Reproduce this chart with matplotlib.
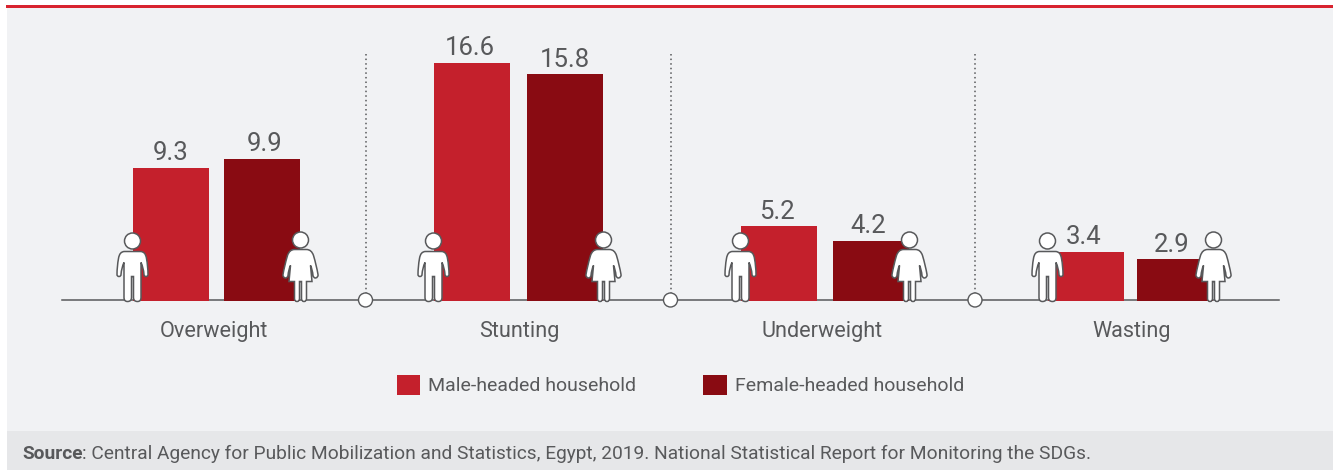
import matplotlib
matplotlib.use("Agg")
import matplotlib.pyplot as plt
from matplotlib.patches import Rectangle, Circle, PathPatch
from matplotlib.path import Path
from matplotlib.transforms import Affine2D

plt.rcParams["font.family"] = ["Roboto", "DejaVu Sans"]

# data
categories = ["Overweight", "Stunting", "Underweight", "Wasting"]
male_values = [9.3, 16.6, 5.2, 3.4]
female_values = [9.9, 15.8, 4.2, 2.9]
source_lead = "Source"
source_rest = ": Central Agency for Public Mobilization and Statistics, Egypt, 2019. National Statistical Report for Monitoring the SDGs."

# layout, in pixels of the 1333x470 picture
W, H = 1333, 470
BASE_Y = 301
PX_PER_UNIT = 14.34
BAR_W = 76
male_left = [133, 434, 741, 1048]
female_left = [224, 527, 833, 1137]
label_x = [214, 519, 822, 1132]
sep_x = [365.5, 670.5, 975]
# value labels are not quite centred on their bars in the original (points)
male_nudge = [0, -1.4, -1.4, -1.4]
female_nudge = [2, 0, -2, -2]

RED = "#c4202c"
DARK = "#890b12"
GREY = "#58595b"

fig = plt.figure(figsize=(W / 100, H / 100), dpi=100, facecolor="white")
ax = fig.add_axes([0, 0, 1, 1])
ax.set_xlim(0, W)
ax.set_ylim(-(H - BASE_Y) / PX_PER_UNIT, BASE_Y / PX_PER_UNIT)
ax.axis("off")

# everything that is not a value is placed in picture pixels
px = Affine2D().scale(1 / W, -1 / H).translate(0, 1) + fig.transFigure

ax.add_patch(Rectangle((6.5, 6), W, 425, fc="#f1f2f4", ec="none", transform=px, zorder=0))
ax.add_patch(Rectangle((6.5, 431), W, 39, fc="#e6e7e9", ec="none", transform=px, zorder=0))
ax.add_patch(Rectangle((6, 5.2), W, 2.8, fc="#d8232f", ec="none", transform=px, zorder=1))

ax.plot([62, 1279], [0.04, 0.04], color=GREY, lw=1.1, zorder=2)
male_bars = ax.bar(male_left, male_values, BAR_W, align="edge", color=RED, zorder=3,
                   label="Male-headed household")
female_bars = ax.bar(female_left, female_values, BAR_W, align="edge", color=DARK, zorder=3,
                     label="Female-headed household")
for bars, nudges in ((male_bars, male_nudge), (female_bars, female_nudge)):
    labels = ax.bar_label(bars, fmt="%.1f", padding=2, fontsize=18.5, color=GREY)
    for lab, dx in zip(labels, nudges):
        lab.xyann = (dx, lab.xyann[1])

# separators
for x in sep_x:
    ax.plot([x, x], [54, 293], color=GREY, lw=1.1, ls=(0, (1, 2)), transform=px, zorder=2)
    ax.add_patch(Circle((x, 300), 7, fc="white", ec=GREY, lw=1, transform=px, zorder=4))

# left half of each figure, top centre to crotch: ("L", end) or ("Q", ctrl, end)
man_half = [
    (0, -50),
    ("L", (-8, -50)),
    ("Q", (-13, -50), (-14, -43)),
    ("Q", (-15.5, -35), (-15.5, -27)),
    ("Q", (-15.5, -25), (-13.5, -25)),
    ("Q", (-11.5, -25), (-11.5, -27)),
    ("Q", (-11, -34), (-8.5, -39)),
    ("L", (-8.5, -4)),
    ("Q", (-8.5, 0), (-5, 0)),
    ("Q", (-1, 0), (-1, -4)),
    ("L", (-1, -25)),
    ("L", (0, -25)),
]
woman_half = [
    (0, -52),
    ("L", (-6, -52)),
    ("Q", (-11, -52), (-13, -46)),
    ("Q", (-16, -36), (-17.5, -27)),
    ("Q", (-18, -24), (-15, -23.5)),
    ("Q", (-13, -23.5), (-12.5, -26)),
    ("Q", (-12, -32), (-10, -36)),
    ("L", (-11.5, -20)),
    ("L", (-6, -20)),
    ("L", (-6, -3)),
    ("Q", (-6, 0), (-3.5, 0)),
    ("Q", (-1, 0), (-1, -3)),
    ("L", (-1, -20)),
    ("L", (0, -20)),
]


def outline_path(half, cx, base_y):
    # walk down the left side, then back up the mirrored right side
    pts = [half[0]]
    codes = [Path.MOVETO]
    for seg in half[1:]:
        if seg[0] == "L":
            pts.append(seg[1])
            codes.append(Path.LINETO)
        else:
            pts += [seg[1], seg[2]]
            codes += [Path.CURVE3, Path.CURVE3]
    right = [(-x, y) for x, y in pts[:-1]][::-1]
    right_codes = codes[1:][::-1]
    pts = pts + right
    codes = codes + right_codes
    verts = [(cx + x, base_y + y) for x, y in pts]
    return Path(verts + [verts[0]], codes + [Path.CLOSEPOLY])


def person(cx, half, head_y):
    ax.add_patch(PathPatch(outline_path(half, cx, BASE_Y + 0.5), fc="white", ec=GREY, lw=1.1,
                           transform=px, zorder=5))
    ax.add_patch(Circle((cx, head_y), 8, fc="white", ec=GREY, lw=1.1, transform=px, zorder=5))


for left in male_left:
    person(left - 0.5, man_half, 241)
for left in female_left:
    person(left + BAR_W + 0.5, woman_half, 240)

for x, name in zip(label_x, categories):
    ax.text(x, 331, name, ha="center", va="center", fontsize=15.6, color=GREY, transform=px)

ax.legend(loc="center left", bbox_to_anchor=(397, 385), bbox_transform=px, ncol=2, frameon=False,
          fontsize=14, labelcolor=GREY, borderpad=0, borderaxespad=0, handlelength=1.19,
          handleheight=1.19, handletextpad=0.42, columnspacing=3.45)

t = ax.text(22, 454, source_lead, ha="left", va="center", fontsize=13.8, fontweight="bold",
            color=GREY, transform=px)
ax.annotate(source_rest, xy=(1, 0), xycoords=t, ha="left", va="bottom", fontsize=13.8, color=GREY)

fig.savefig("out.png", dpi=100, facecolor=fig.get_facecolor())
